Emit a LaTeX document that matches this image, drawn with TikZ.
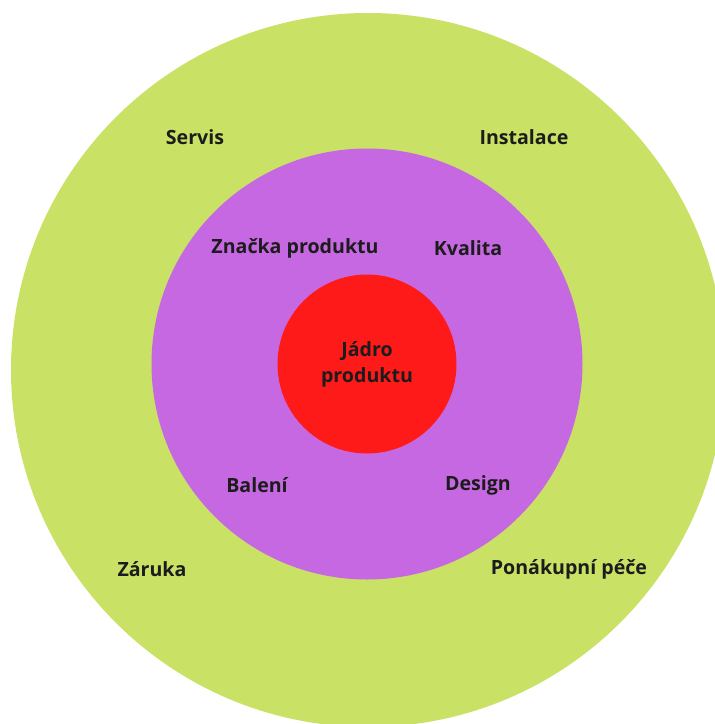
\documentclass[tikz,border=0pt]{standalone}
\usepackage{fontspec}
\setmainfont{Open Sans}
\usetikzlibrary{positioning}
\definecolor{ringgreen}{HTML}{C9E265}
\definecolor{ringviolet}{HTML}{C768E3}
\definecolor{corered}{HTML}{FF1A1A}
\definecolor{labeltext}{HTML}{1C1C1C}
\tikzset{
    onion/.style={
        x=1pt, y=-1pt,
        % Stile per gli anelli (cerchi pieni)
        ring/.style={circle, draw=none, inner sep=0pt},
        % Stile per le etichette
        tag/.style={text=labeltext, font=\bfseries\fontsize{19.6}{26}\selectfont,
                    align=center, inner sep=1pt}
    }
}

\begin{document}
\begin{tikzpicture}[onion]
      \useasboundingbox (0,0) rectangle (715,724);
      \clip (0,0) rectangle (715,724);
      \node[ring, fill=ringgreen, minimum size=714pt] (outer) at (368,370) {};
      \node[ring, fill=ringviolet, minimum size=431pt] (middle) at (367,364) {};
      \node[ring, fill=corered, minimum size=179pt] (core) at (367,364) {};

      \node[tag] (jadro) at (core) {Jádro\\produktu};

      \node[tag] (znacka) at (295,248) {Značka produktu};
      \node[tag] (kvalita) at (468,248) {Kvalita};
      \node[tag] (baleni) at (257,485) {Balení};
      \node[tag] (design) at (478,485) {Design};

      \node[tag] (servis) at (195,137) {Servis};
      \node[tag] (instalace) at (524,137) {Instalace};
      \node[tag] (zaruka) at (152,569) {Záruka};
      \node[tag] (pece) at (569,569) {Ponákupní péče};
\end{tikzpicture}
\end{document}
